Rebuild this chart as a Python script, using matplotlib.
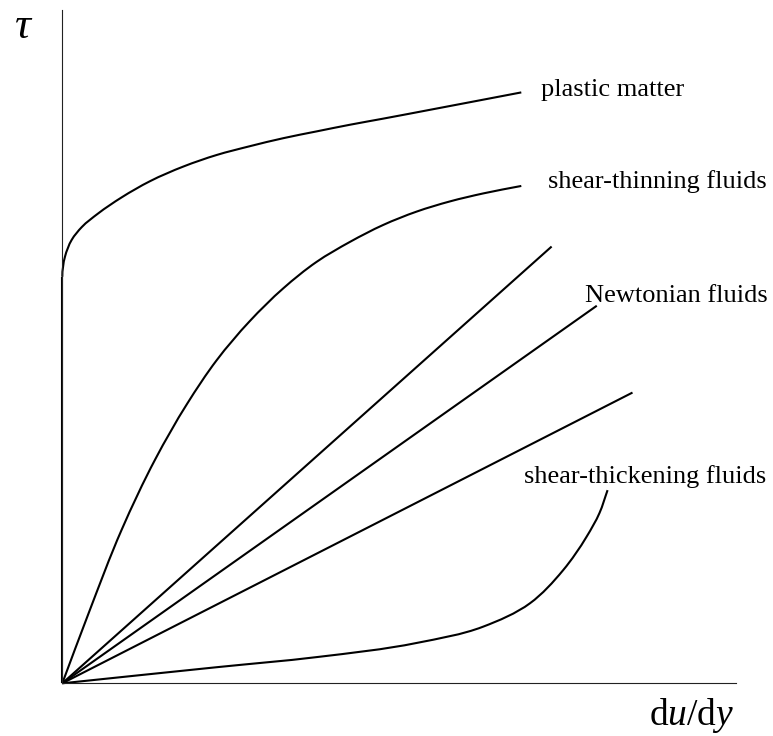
import matplotlib
matplotlib.use("Agg")
import numpy as np
import matplotlib.pyplot as plt
from matplotlib.path import Path
from matplotlib.patches import PathPatch

plt.rcParams['font.family'] = ['Liberation Serif', 'DejaVu Serif']
plt.rcParams['mathtext.fontset'] = 'custom'
plt.rcParams['mathtext.rm'] = 'Liberation Serif'
plt.rcParams['mathtext.it'] = 'Liberation Serif:italic'

# Curves (shear rate du/dy, shear stress tau), arbitrary units
plastic_yield = 6.04
plastic_x = [0, 0.04, 0.14, 0.29, 0.53, 0.88, 1.30, 1.80, 2.29, 2.78, 3.28, 3.77, 4.27, 4.76, 5.50, 6.81]
plastic_y = [6.04, 6.34, 6.59, 6.78, 6.98, 7.22, 7.46, 7.68, 7.85, 7.98, 8.10, 8.20, 8.30, 8.39, 8.53, 8.78]

thinning_x = [0, 0.39, 0.88, 1.38, 1.85, 2.29, 2.78, 3.28, 3.77, 4.27, 4.76, 5.26, 5.75, 6.25, 6.81]
thinning_y = [0, 1.04, 2.28, 3.33, 4.15, 4.80, 5.38, 5.87, 6.26, 6.56, 6.81, 7.01, 7.16, 7.28, 7.39]

newton_end_x = [7.26, 7.93, 8.46]
newton_end_y = [6.49, 5.61, 4.32]

thickening_x = [0, 2.30, 3.78, 5.26, 6.24, 6.94, 7.43, 7.78, 7.97, 8.09]
thickening_y = [0, 0.24, 0.39, 0.60, 0.84, 1.19, 1.68, 2.18, 2.53, 2.87]

labels = ["plastic matter", "shear-thinning fluids", "Newtonian fluids", "shear-thickening fluids"]
label_x = [7.1, 7.21, 7.76, 6.85]
label_y = [8.72, 7.36, 5.67, 2.97]

W, H = 773, 736
fig = plt.figure(figsize=(W / 100, H / 100), dpi=100)
ax = fig.add_axes([62.3 / W, (H - 683.3) / H, 674 / W, 673 / H])
ax.set_xlim(0, 10)
ax.set_ylim(0, 10)
for s in ['top', 'right']:
    ax.spines[s].set_visible(False)
for s in ['left', 'bottom']:
    ax.spines[s].set_linewidth(0.8)
    ax.spines[s].set_color('#222222')
ax.set_xticks([])
ax.set_yticks([])
ax.patch.set_alpha(0)

lw = 1.5


def smooth_path(xs, ys, start_dir=None):
    """Cubic Bezier path through the points (chord-length parameter, Bessel tangents)."""
    P = np.column_stack([xs, ys]).astype(float)
    n = len(P)
    L = np.hypot(*np.diff(P, axis=0).T)          # chord lengths
    D = np.diff(P, axis=0) / L[:, None]           # unit chord directions
    M = np.zeros_like(P)
    M[0] = D[0] if start_dir is None else np.asarray(start_dir, float)
    M[-1] = D[-1]
    for i in range(1, n - 1):
        M[i] = (L[i] * D[i - 1] + L[i - 1] * D[i]) / (L[i - 1] + L[i])
    verts = [tuple(P[0])]
    codes = [Path.MOVETO]
    for i in range(n - 1):
        c1 = P[i] + M[i] * L[i] / 3
        c2 = P[i + 1] - M[i + 1] * L[i] / 3
        verts += [tuple(c1), tuple(c2), tuple(P[i + 1])]
        codes += [Path.CURVE4] * 3
    return Path(verts, codes)


patch_kw = dict(facecolor='none', edgecolor='black', lw=lw, capstyle='butt',
                joinstyle='round', clip_on=False)

# plastic matter: vertical rise to the yield stress, then the flow curve
ax.plot([0, 0], [0, plastic_yield], color='black', lw=lw, solid_capstyle='butt', clip_on=False)
ax.add_patch(PathPatch(smooth_path(plastic_x, plastic_y, start_dir=(0, 1)), **patch_kw))

ax.add_patch(PathPatch(smooth_path(thinning_x, thinning_y), **patch_kw))
ax.add_patch(PathPatch(smooth_path(thickening_x, thickening_y), **patch_kw))

for ex, ey in zip(newton_end_x, newton_end_y):
    ax.plot([0, ex], [0, ey], color='black', lw=lw, solid_capstyle='butt', clip_on=False)

for t, x, y in zip(labels, label_x, label_y):
    ax.text(x, y, t, fontsize=19, ha='left', va='baseline', color='black')

fig.text(24 / W, 1 - 27 / H, r'$\tau$', fontsize=32, ha='center', va='center')
fig.text(734 / W, 1 - 725 / H, r'$\mathrm{d}u/\mathrm{d}y$', fontsize=27, ha='right', va='baseline')

fig.savefig('out.png', dpi=100)
